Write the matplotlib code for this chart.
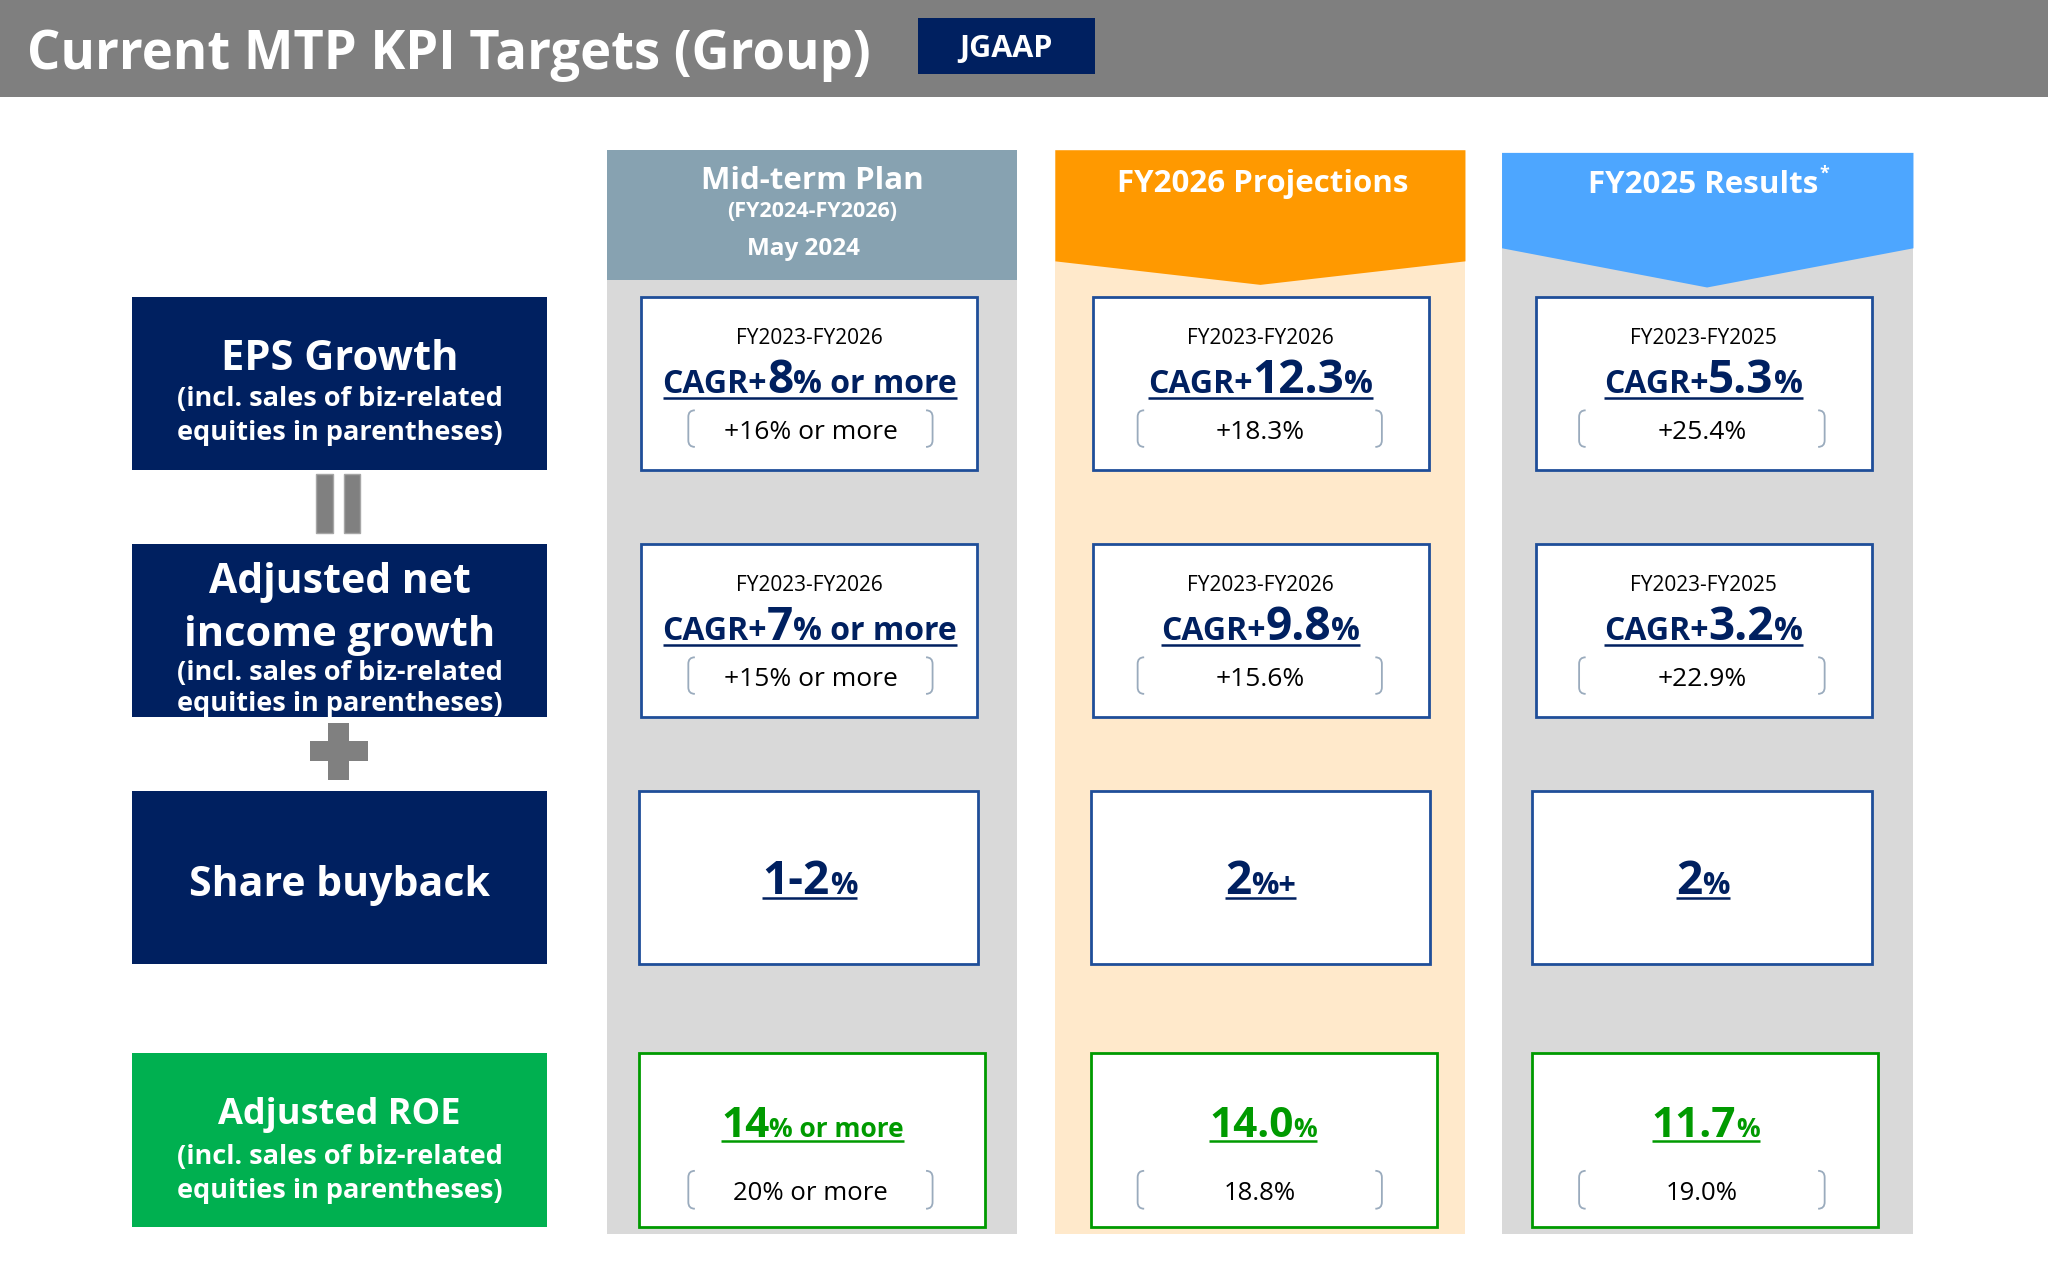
import matplotlib

matplotlib.use("Agg")
import matplotlib.pyplot as plt
from matplotlib.patches import Polygon, Rectangle, PathPatch
from matplotlib.path import Path

plt.rcParams["font.family"] = ["Open Sans", "DejaVu Sans"]

# ---- content -------------------------------------------------------------
TITLE = "Current MTP KPI Targets (Group)"
BADGE = "JGAAP"

row_labels = [
    ["EPS Growth"],
    ["Adjusted net", "income growth"],
    ["Share buyback"],
    ["Adjusted ROE"],
]
incl_note = ["(incl. sales of biz-related", "equities in parentheses)"]

periods = ["FY2023-FY2026", "FY2023-FY2026", "FY2023-FY2025"]

eps_value = ["8", "12.3", "5.3"]
eps_suffix = ["% or more", "%", "%"]
eps_incl = ["+16% or more", "+18.3%", "+25.4%"]

ni_value = ["7", "9.8", "3.2"]
ni_suffix = ["% or more", "%", "%"]
ni_incl = ["+15% or more", "+15.6%", "+22.9%"]

buyback_value = ["1-2", "2", "2"]
buyback_suffix = ["%", "%+", "%"]

roe_value = ["14", "14.0", "11.7"]
roe_suffix = ["% or more", "%", "%"]
roe_incl = ["20% or more", "18.8%", "19.0%"]

# ---- styling -------------------------------------------------------------
W, H = 1568, 965          # layout units (canvas is 2048 x 1261 px)
PX = 2048 / W
NAVY = "#002060"
GREEN = "#00B050"
GREEN_TXT = "#009A00"
BOX_EDGE = "#1F4E99"
GREY_BODY = "#D9D9D9"
BRACKET = "#9AABBD"
COL_X = [465, 808, 1150]
COL_W = 314
BOX_DX = [26, 29, 26]      # small per-column offsets of the white boxes
BOX_DX_LOW = [24, 27, 23]
TEXT_DX = [155, 157, 154]
BRACKET_DX = [(62, 249), (63, 250), (59, 247)]

fig = plt.figure(figsize=(20.48, 12.61), dpi=100)
ax = fig.add_axes([0, 0, 1, 1])
ax.set_xlim(0, W)
ax.set_ylim(H, 0)
ax.axis("off")
renderer = fig.canvas.get_renderer()


def rect(x, y, w, h, fc, ec="none", lw=0, z=1):
    ax.add_patch(Rectangle((x, y), w, h, facecolor=fc, edgecolor=ec, linewidth=lw, zorder=z))


def rich_line(xc, yb, parts, color, underline=True):
    texts, widths = [], []
    for s, size in parts:
        t = ax.text(0, yb, s, fontsize=size, fontweight="bold", color=color,
                    ha="left", va="baseline", zorder=5)
        texts.append(t)
        widths.append(t.get_window_extent(renderer).width / PX)
    total = sum(widths)
    x = xc - total / 2
    for t, w in zip(texts, widths):
        t.set_x(x)
        x += w
    if underline:
        ax.plot([xc - total / 2, xc + total / 2], [yb + 3.5, yb + 3.5], color=color,
                lw=1.8, solid_capstyle="butt", zorder=5)


def brackets(xl, xr, y0, y1):
    hook = 5
    left = Path([(xl + hook, y0), (xl, y0), (xl, y0 + hook), (xl, y1 - hook), (xl, y1), (xl + hook, y1)],
                [Path.MOVETO, Path.CURVE3, Path.CURVE3, Path.LINETO, Path.CURVE3, Path.CURVE3])
    right = Path([(xr - hook, y0), (xr, y0), (xr, y0 + hook), (xr, y1 - hook), (xr, y1), (xr - hook, y1)],
                 [Path.MOVETO, Path.CURVE3, Path.CURVE3, Path.LINETO, Path.CURVE3, Path.CURVE3])
    for p in (left, right):
        ax.add_patch(PathPatch(p, facecolor="none", edgecolor=BRACKET, lw=1.3, zorder=4))


def label(y, s, size):
    ax.text(LX + LW / 2, y, s, fontsize=size, fontweight="bold", color="white",
            ha="center", va="baseline", zorder=3)


# ---- title bar -------------------------------------------------------------
rect(0, 0, W, 74, "#7F7F7F")
ax.text(21, 53, TITLE, fontsize=37.8, fontweight="bold", color="white", va="baseline")
rect(703, 14, 135, 43, NAVY)
ax.text(770, 44, BADGE, fontsize=22, fontweight="bold", color="white", ha="center", va="baseline")

# ---- column backgrounds ----------------------------------------------------
x0 = COL_X[0]
rect(x0, 214, COL_W, 730, GREY_BODY, z=0)
rect(x0, 115, COL_W, 99, "#87A2B1", z=0.5)
ax.text(x0 + 157, 145, "Mid-term Plan", fontsize=22.5, fontweight="bold", color="white", ha="center", va="baseline")
ax.text(x0 + 157, 166, "(FY2024-FY2026)", fontsize=15.5, fontweight="bold", color="white", ha="center", va="baseline")
ax.text(x0 + 150, 195, "May 2024", fontsize=17.5, fontweight="bold", color="white", ha="center", va="baseline")

x1 = COL_X[1]
rect(x1, 115, COL_W, 829, "#FFE9CB", z=0)
ax.add_patch(Polygon([(x1, 115), (x1 + COL_W, 115), (x1 + COL_W, 200), (x1 + 157, 218), (x1, 200)],
                     closed=True, facecolor="#FF9900", edgecolor="none", zorder=0.5))
ax.text(x1 + 159, 147, "FY2026 Projections", fontsize=22.5, fontweight="bold", color="white", ha="center", va="baseline")

x2 = COL_X[2]
rect(x2, 117, COL_W + 1, 827, GREY_BODY, z=0)
ax.add_patch(Polygon([(x2, 117), (x2 + COL_W + 1, 117), (x2 + COL_W + 1, 190), (x2 + 157, 220), (x2, 190)],
                     closed=True, facecolor="#4DA6FF", edgecolor="none", zorder=0.5))
t = ax.text(x2 + 154, 148, "FY2025 Results", fontsize=22.5, fontweight="bold", color="white", ha="center", va="baseline")
bb = t.get_window_extent(renderer)
ax.text(x2 + 154 + bb.width / PX / 2 + 1, 137, "*", fontsize=13, fontweight="bold", color="white", va="baseline")

# ---- left labels -----------------------------------------------------------
LX, LW, LH = 101, 318, 133
label_tops = [227, 416, 605, 806]
label_fill = [NAVY, NAVY, NAVY, GREEN]
for i, top in enumerate(label_tops):
    rect(LX, top, LW, LH, label_fill[i])

label(283, row_labels[0][0], 30)
label(311, incl_note[0], 19.5)
label(337, incl_note[1], 19.5)

label(454, row_labels[1][0], 29.5)
label(494, row_labels[1][1], 30)
label(520, incl_note[0], 19.5)
label(544, incl_note[1], 19.5)

label(686, row_labels[2][0], 29.5)

label(860, row_labels[3][0], 26)
label(891, incl_note[0], 19.5)
label(917, incl_note[1], 19.5)

# "=" turned on its side, and "+"
rect(242, 363, 13, 45, "#808080", "#A6A6A6", 1)
rect(263, 363, 13, 45, "#808080", "#A6A6A6", 1)
rect(251, 553, 16, 44, "#808080", z=2)
rect(237, 567, 45, 15, "#808080", z=2)

# ---- KPI boxes -------------------------------------------------------------
for c, xc0 in enumerate(COL_X):
    mid = xc0 + TEXT_DX[c]
    bl, br = xc0 + BRACKET_DX[c][0], xc0 + BRACKET_DX[c][1]
    incl_mid = (bl + br) / 2

    # EPS growth and adjusted net income growth
    for top, val, suf, incl in [(227, eps_value, eps_suffix, eps_incl),
                                (416, ni_value, ni_suffix, ni_incl)]:
        rect(xc0 + BOX_DX[c], top, 257, 133, "white", BOX_EDGE, 2, z=2)
        ax.text(mid, top + 36, periods[c], fontsize=15, color="black", ha="center", va="baseline", zorder=5)
        rich_line(mid, top + 74, [("CAGR+", 23), (val[c], 33), (suf[c], 23)], NAVY)
        brackets(bl, br, top + 87, top + 115)
        ax.text(incl_mid, top + 109, incl[c], fontsize=19, color="black", ha="center", va="baseline", zorder=5)

    # share buyback
    rect(xc0 + BOX_DX_LOW[c], 605, 260, 133, "white", BOX_EDGE, 2, z=2)
    rich_line(mid, 684, [(buyback_value[c], 33), (buyback_suffix[c], 22)], NAVY)

    # adjusted ROE
    rect(xc0 + BOX_DX_LOW[c], 806, 265, 133, "white", GREEN_TXT, 2, z=2)
    rich_line(mid + 2, 870, [(roe_value[c], 30.5), (roe_suffix[c], 19)], GREEN_TXT)
    brackets(bl, br, 896, 925)
    ax.text(incl_mid, 918, roe_incl[c], fontsize=18.5, color="black", ha="center", va="baseline", zorder=5)

fig.savefig("out.png", dpi=100, facecolor="white")
